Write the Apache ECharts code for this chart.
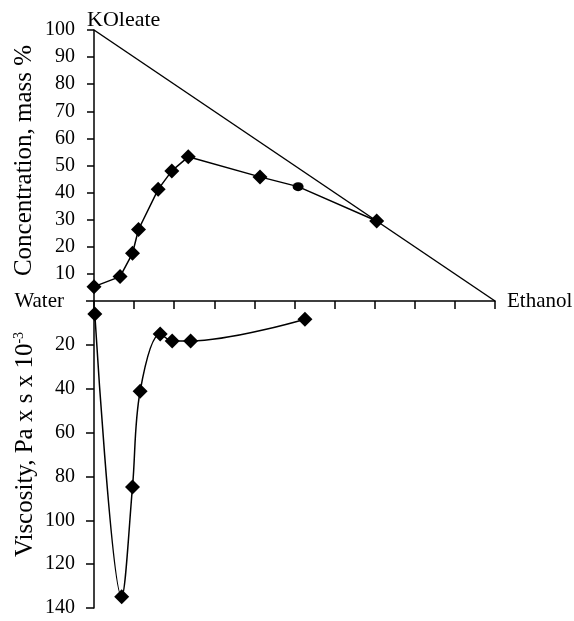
<!DOCTYPE html>
<html>
<head>
<meta charset="utf-8">
<script src="https://cdn.jsdelivr.net/npm/echarts@6/dist/echarts.min.js"></script>
<style>
html,body{margin:0;padding:0;background:#fff;}
#c{width:574px;height:621px;}
</style>
</head>
<body>
<div id="c"></div>
<script>
// Ternary-style composition (x: ethanol share, y: KOleate mass %)
var compX = [0, 6.5, 9.6, 11.1, 16.0, 19.4, 23.5, 41.4, 50.9, 70.5];
var compY = [5.3, 9.0, 17.6, 26.4, 41.2, 48.0, 53.2, 45.8, 42.2, 29.5];
// Boundary line KOleate - Ethanol
var boundX = [0, 100];
var boundY = [100, 0];
// Viscosity (Pa x s x 10^-3)
var viscX = [0.2, 6.9, 9.6, 11.5, 16.5, 19.5, 24.1, 52.6];
var viscY = [5.9, 134.9, 84.8, 41.2, 15.1, 18.2, 18.2, 8.3];
// Tick settings
var xTicks = {min: 0, max: 100, interval: 10};
var concTicks = {min: 0, max: 100, interval: 10};
var viscTicks = {min: 0, max: 140, interval: 20};

function pairs(xs, ys) { return xs.map(function (x, i) { return [x, ys[i]]; }); }

var FONT = 'Liberation Serif';
var BLACK = '#000';

var compData = pairs(compX, compY).map(function (p, i) {
  if (i === 8) return {value: p, symbol: 'circle', symbolSize: [11, 9]};
  return {value: p};
});

var chart = echarts.init(document.getElementById('c'), null, {renderer: 'canvas'});
chart.setOption({
  animation: false,
  backgroundColor: '#fff',
  grid: [
    {left: 94, top: 30, width: 401, height: 271, outerBoundsMode: 'none', containLabel: false},
    {left: 94, top: 301, width: 401, height: 307, outerBoundsMode: 'none', containLabel: false}
  ],
  xAxis: [
    {
      gridIndex: 0, type: 'value', min: xTicks.min, max: xTicks.max, interval: xTicks.interval,
      axisLine: {show: true, onZero: false, lineStyle: {color: BLACK, width: 1.5}},
      axisTick: {show: true, inside: false, length: 8, lineStyle: {color: BLACK, width: 1.5}},
      axisLabel: {show: false},
      splitLine: {show: false},
      name: 'Ethanol', nameLocation: 'end', nameGap: 12, nameMoveOverlap: false,
      nameTextStyle: {fontFamily: FONT, fontSize: 21, color: BLACK, verticalAlign: 'middle', align: 'left'}
    },
    {
      gridIndex: 1, type: 'value', min: xTicks.min, max: xTicks.max, interval: xTicks.interval,
      show: false
    }
  ],
  yAxis: [
    {
      gridIndex: 0, type: 'value', min: concTicks.min, max: concTicks.max, interval: concTicks.interval,
      axisLine: {show: true, lineStyle: {color: BLACK, width: 1.5}},
      axisTick: {show: true, length: 7, lineStyle: {color: BLACK, width: 1.5}},
      axisLabel: {
        margin: 19, fontFamily: FONT, fontSize: 20, color: BLACK,
        formatter: function (v) { return v === 0 ? '{w|Water}' : String(v); },
        rich: {w: {fontFamily: FONT, fontSize: 21, color: BLACK, padding: [0, 11, 0, 0]}}
      },
      splitLine: {show: false},
      name: 'Concentration, mass %', nameLocation: 'middle', nameGap: 57, nameRotate: 90,
      nameMoveOverlap: false,
      nameTextStyle: {fontFamily: FONT, fontSize: 25, color: BLACK, padding: [0, 0, 0, 10]}
    },
    {
      gridIndex: 0, type: 'value', min: concTicks.min, max: concTicks.max, position: 'left',
      show: true, axisLine: {show: false}, axisTick: {show: false}, axisLabel: {show: false},
      splitLine: {show: false},
      name: 'KOleate', nameLocation: 'end', nameGap: -1, nameMoveOverlap: false,
      nameTextStyle: {fontFamily: FONT, fontSize: 22, color: BLACK, align: 'left', verticalAlign: 'bottom', padding: [0, 0, 0, -7]}
    },
    {
      gridIndex: 1, type: 'value', inverse: true, min: viscTicks.min, max: viscTicks.max, interval: viscTicks.interval,
      axisLine: {show: true, lineStyle: {color: BLACK, width: 1.5}},
      axisTick: {show: true, length: 8, lineStyle: {color: BLACK, width: 1.5}},
      axisLabel: {
        margin: 19, fontFamily: FONT, fontSize: 20, color: BLACK,
        formatter: function (v) { return v === 0 ? '' : String(v); }
      },
      splitLine: {show: false},
      name: '{a|Viscosity, Pa x s x 10}{s|-3}', nameLocation: 'middle', nameGap: 56, nameRotate: 90,
      nameMoveOverlap: false,
      nameTextStyle: {
        fontFamily: FONT, fontSize: 25, color: BLACK, padding: [0, 0, 0, 20],
        rich: {
          a: {fontFamily: FONT, fontSize: 25, color: BLACK},
          s: {fontFamily: FONT, fontSize: 14, color: BLACK, padding: [0, 0, 12, 0]}
        }
      }
    }
  ],
  series: [
    {
      type: 'line', xAxisIndex: 0, yAxisIndex: 0,
      data: pairs(boundX, boundY), symbol: 'none',
      lineStyle: {color: BLACK, width: 1.5}, silent: true
    },
    {
      type: 'line', xAxisIndex: 0, yAxisIndex: 0,
      data: compData, symbol: 'diamond', symbolSize: 15,
      itemStyle: {color: BLACK}, lineStyle: {color: BLACK, width: 1.5}
    },
    {
      type: 'line', xAxisIndex: 1, yAxisIndex: 2,
      data: pairs(viscX, viscY), symbol: 'diamond', symbolSize: 15, smooth: 0.35,
      itemStyle: {color: BLACK}, lineStyle: {color: BLACK, width: 1.5}
    }
  ]
});
</script>
</body>
</html>
